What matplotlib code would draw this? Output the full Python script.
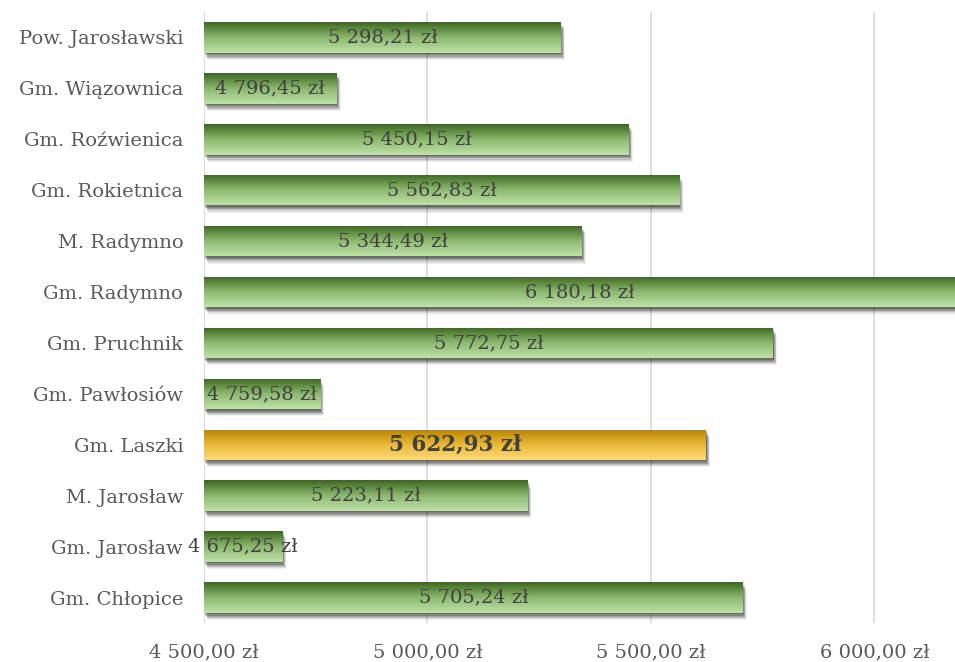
import matplotlib
matplotlib.use("Agg")
import matplotlib.pyplot as plt
import matplotlib.patheffects as pe
import numpy as np
from matplotlib.colors import LinearSegmentedColormap

categories = ["Pow. Jarosławski", "Gm. Wiązownica", "Gm. Roźwienica", "Gm. Rokietnica",
              "M. Radymno", "Gm. Radymno", "Gm. Pruchnik", "Gm. Pawłosiów",
              "Gm. Laszki", "M. Jarosław", "Gm. Jarosław", "Gm. Chłopice"]
values = [5298.21, 4796.45, 5450.15, 5562.83, 5344.49, 6180.18, 5772.75, 4759.58,
          5622.93, 5223.11, 4675.25, 5705.24]
highlight = "Gm. Laszki"
xticks = [4500, 5000, 5500, 6000]
xmin = 4500

def fmt(v):
    s = f"{v:,.2f}".replace(",", " ").replace(".", ",")
    return s + " zł"

plt.rcParams['font.family'] = ['DejaVu Serif']

fig = plt.figure(figsize=(9.55, 6.62), dpi=100)
ax = fig.add_axes([0.2136, 0.0589, 0.7864, 0.923])

green = LinearSegmentedColormap.from_list("g", ["#c0e2a9", "#8cb870", "#3b661e"])
gold = LinearSegmentedColormap.from_list("o", ["#fcda7a", "#e9b838", "#b88200"])

n = len(categories)
ypos = np.arange(n)[::-1]
h = 0.6
bars = ax.barh(ypos, [v - xmin for v in values], left=xmin, height=h,
               color="none", edgecolor="none", zorder=2)
grad = np.linspace(0, 1, 256).reshape(-1, 1)
shadow_fx = [pe.SimplePatchShadow(offset=(dx, -dy), shadow_rgbFace="#000000", alpha=a)
             for dx, dy, a in [(0.5, 1.0, 0.18), (1.0, 2.0, 0.18), (1.5, 2.8, 0.15),
                               (2.0, 3.6, 0.12), (2.5, 4.4, 0.09), (3.0, 5.2, 0.06)]]
for b, cat, v, y in zip(bars, categories, values, ypos):
    sh = plt.Rectangle((b.get_x(), b.get_y()), b.get_width(), b.get_height(),
                       facecolor="white", edgecolor="none", zorder=1.5,
                       path_effects=shadow_fx)
    ax.add_patch(sh)
    cmap = gold if cat == highlight else green
    im = ax.imshow(grad, cmap=cmap, aspect="auto", origin="lower",
                   extent=[b.get_x(), b.get_x() + b.get_width(), b.get_y(), b.get_y() + b.get_height()],
                   zorder=2.5)
    im.set_clip_path(b)
    cx = (xmin + v) / 2
    if cat == highlight:
        ax.text(cx, y, fmt(v), ha="center", va="center", fontsize=15.5, fontweight="bold",
                color="#404040", zorder=4)
    else:
        ax.text(cx, y, fmt(v), ha="center", va="center", fontsize=14,
                color="#404040", zorder=4)

ax.set_xlim(xmin, max(values))
ax.set_ylim(-0.5, n - 0.5)
ax.set_yticks(ypos)
ax.set_yticklabels(categories, fontsize=14, color="#595959")
ax.set_xticks(xticks)
ax.set_xticklabels([fmt(t) for t in xticks], fontsize=14, color="#595959")
ax.tick_params(axis="y", length=0, pad=15)
ax.tick_params(axis="x", length=0, pad=15)
ax.grid(axis="x", color="#d9d9d9", linewidth=1.2, zorder=0)
ax.set_axisbelow(True)
for s in ax.spines.values():
    s.set_visible(False)
ax.axvline(xmin, color="#d9d9d9", linewidth=1.5, zorder=0.5)

fig.savefig("out.png", dpi=100)
